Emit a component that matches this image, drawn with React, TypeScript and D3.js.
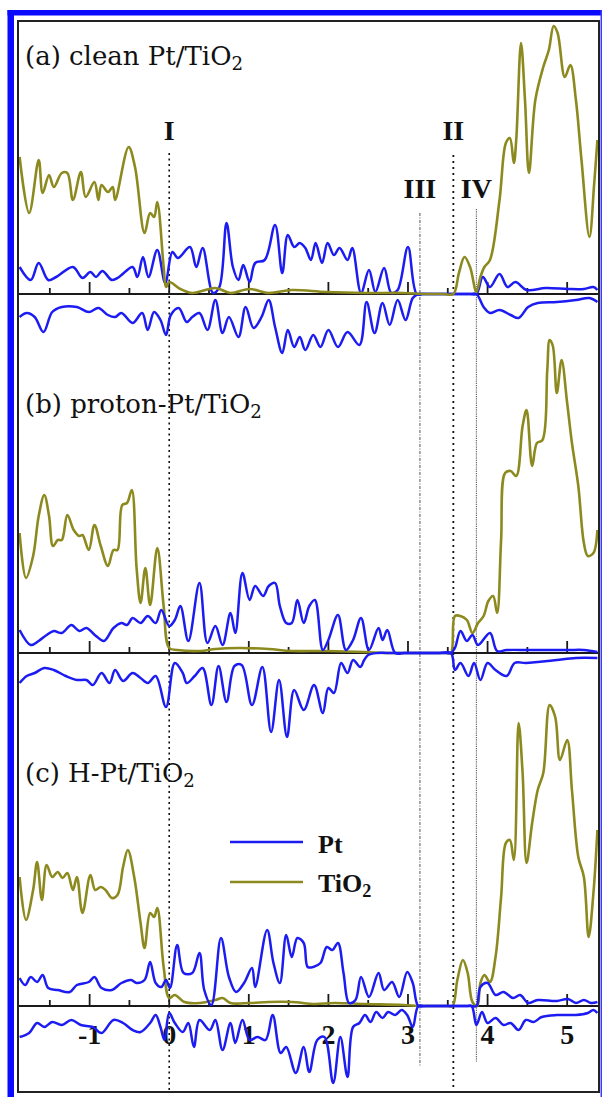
import * as d3 from "d3";
import React from "react";

// energy (eV) vs projected DOS (arb. units); Pt spin-down stored as negative
const tickLabels = [-1, 0, 1, 2, 3, 4, 5];
const panelNames = ["(a) clean Pt/TiO", "(b) proton-Pt/TiO", "(c) H-Pt/TiO"];
const markerNames = ["I", "II", "III", "IV"];
const markerEnergies = [0, 3.57, 3.15, 3.86];
const legendNames = ["Pt", "TiO"];

const cleanTiO2 = [
  [-1.88, 13.7], [-1.76, 8.1], [-1.64, 13.4], [-1.59, 10.1], [-1.51, 11.9], [-1.45, 10.7], [-1.35, 12.1],
  [-1.28, 12.1], [-1.21, 9.4], [-1.11, 12.2], [-1.05, 9.7], [-0.94, 11.2], [-0.89, 9.4], [-0.85, 10.9],
  [-0.77, 10.2], [-0.71, 10.7], [-0.68, 9.4], [-0.51, 14.7], [-0.43, 12.7], [-0.31, 6.1], [-0.24, 8.1],
  [-0.19, 7.7], [-0.15, 9.2], [-0.07, 2.7], [-0.04, 0.7], [0.0, 1.2], [0.14, 0.5], [0.29, 0.1], [0.58, 0.6],
  [0.77, 0.1], [1.01, 0.5], [1.25, 0.1], [1.54, 0.4], [1.97, 0.2], [2.46, 0.1], [2.94, 0.1], [3.18, 0],
  [3.3, 0], [3.45, 0], [3.57, 0], [3.64, 2.1], [3.71, 3.7], [3.78, 2.7], [3.86, 0.2], [3.91, 1.7], [3.96, 2.7],
  [4.03, 3.4], [4.15, 9.4], [4.23, 15.1], [4.28, 15.6], [4.33, 13.1], [4.36, 15.4], [4.42, 25.1], [4.47, 19.4],
  [4.52, 12.1], [4.6, 19.4], [4.7, 22.7], [4.77, 24.4], [4.83, 26.8], [4.88, 26.1], [4.97, 21.7],
  [5.04, 22.9], [5.11, 19.4], [5.18, 13.4], [5.28, 5.7], [5.34, 11.1], [5.38, 15.4],
];
const cleanPtUp = [
  [-1.88, 2.7], [-1.74, 1.4], [-1.64, 3.1], [-1.52, 1.4], [-1.42, 1.7], [-1.21, 2.7], [-1.09, 1.6],
  [-0.99, 2.2], [-0.92, 1.7], [-0.84, 2.3], [-0.72, 1.4], [-0.63, 1.7], [-0.46, 2.7], [-0.4, 1.7],
  [-0.33, 3.7], [-0.26, 1.7], [-0.15, 4.4], [-0.05, 1.1], [0.04, 4.2], [0.11, 3.6], [0.26, 4.7], [0.34, 2.7],
  [0.42, 4.6], [0.55, 0.1], [0.63, 0.7], [0.72, 7.1], [0.8, 2.7], [0.87, 1.4], [0.93, 2.9], [1.01, 1.2],
  [1.08, 3.1], [1.2, 3.4], [1.33, 6.9], [1.42, 2.1], [1.49, 5.9], [1.57, 4.7], [1.64, 5.1], [1.71, 4.6],
  [1.78, 3.4], [1.84, 5.1], [1.92, 3.1], [1.99, 5.1], [2.07, 3.9], [2.14, 4.6], [2.24, 3.4], [2.3, 4.6],
  [2.41, 0.1], [2.51, 2.4], [2.59, 0.2], [2.7, 2.6], [2.79, 0.1], [2.87, 0.4], [3.0, 4.7], [3.11, 0],
  [3.2, 0], [3.4, 0], [3.6, 0], [3.78, 0], [3.86, 0], [3.94, 1.7], [4.03, 0.7], [4.15, 2.0], [4.25, 0.7],
  [4.35, 1.2], [4.49, 0.4], [4.73, 0.6], [5.01, 0.5], [5.21, 0.5], [5.33, 0.7], [5.38, 0.4],
];
const cleanPtDown = [
  [-1.88, -2.3], [-1.79, -1.9], [-1.69, -2.3], [-1.58, -3.8], [-1.47, -1.8], [-1.35, -1.3], [-1.16, -1.3],
  [-1.01, -1.8], [-0.89, -1.4], [-0.77, -2.1], [-0.68, -2.3], [-0.6, -1.9], [-0.46, -2.9], [-0.34, -1.9],
  [-0.27, -3.6], [-0.19, -1.8], [-0.11, -2.6], [-0.04, -4.1], [0.02, -2.1], [0.12, -1.4], [0.22, -2.8],
  [0.29, -2.3], [0.38, -1.9], [0.48, -3.6], [0.58, -0.6], [0.67, -3.9], [0.75, -2.3], [0.87, -4.3],
  [0.96, -1.3], [1.06, -3.4], [1.16, -2.3], [1.25, -0.6], [1.33, -3.3], [1.42, -5.9], [1.49, -3.6],
  [1.57, -5.3], [1.64, -4.3], [1.71, -5.6], [1.81, -4.1], [1.9, -5.3], [2.0, -3.6], [2.12, -5.3],
  [2.24, -3.8], [2.39, -5.1], [2.48, -0.8], [2.58, -3.9], [2.68, -0.9], [2.77, -3.1], [2.87, -0.6],
  [2.97, -2.6], [3.06, -0.4], [3.13, 0], [3.22, 0], [3.4, 0], [3.6, 0], [3.78, 0], [3.86, 0], [3.95, -1.3],
  [4.03, -1.9], [4.15, -1.6], [4.29, -2.1], [4.39, -2.4], [4.51, -1.3], [4.63, -0.9], [4.87, -0.8],
  [5.11, -0.6], [5.28, -0.4], [5.38, -0.8],
];

const protonTiO2 = [
  [-1.88, 12.0], [-1.8, 7.5], [-1.71, 9.7], [-1.64, 13.7], [-1.57, 15.8], [-1.51, 13.7], [-1.46, 10.7],
  [-1.4, 11.3], [-1.35, 11.3], [-1.28, 13.8], [-1.2, 12.3], [-1.13, 11.7], [-1.09, 11.8], [-1.01, 10.3],
  [-0.94, 12.8], [-0.86, 10.7], [-0.77, 8.7], [-0.7, 10.3], [-0.65, 10.3], [-0.59, 14.8], [-0.53, 15.0],
  [-0.47, 16.3], [-0.41, 8.5], [-0.36, 5.0], [-0.3, 8.5], [-0.24, 4.8], [-0.15, 10.5], [-0.07, 4.7],
  [0.0, 0.5], [0.1, 0.3], [0.39, 0.2], [0.58, 0.4], [0.87, 0.5], [1.25, 0.4], [1.54, 0.2], [1.98, 0.2],
  [2.46, 0.1], [2.7, 0], [2.9, 0], [3.1, 0], [3.3, 0], [3.48, 0], [3.54, 0], [3.59, 3.7], [3.66, 3.7],
  [3.74, 3.3], [3.81, 2.0], [3.88, 3.0], [3.95, 3.7], [4.01, 5.2], [4.07, 5.7], [4.12, 4.0], [4.17, 11.3],
  [4.22, 18.0], [4.29, 18.2], [4.36, 17.7], [4.44, 22.7], [4.49, 24.3], [4.56, 18.7], [4.62, 21.0],
  [4.69, 21.3], [4.75, 28.3], [4.78, 31.3], [4.82, 30.7], [4.87, 26.0], [4.93, 29.3], [5.0, 25.0],
  [5.06, 21.0], [5.14, 16.7], [5.21, 11.0], [5.26, 9.7], [5.33, 10.0], [5.38, 12.3],
];
const protonPtUp = [
  [-1.88, 2.3], [-1.74, 0.8], [-1.64, 1.2], [-1.54, 1.8], [-1.45, 2.2], [-1.35, 2.0], [-1.23, 2.8],
  [-1.13, 2.2], [-1.04, 2.5], [-0.92, 1.7], [-0.82, 1.2], [-0.7, 2.5], [-0.6, 3.0], [-0.53, 2.8],
  [-0.46, 3.5], [-0.36, 3.0], [-0.27, 3.7], [-0.17, 3.0], [-0.1, 4.3], [0.0, 2.7], [0.07, 3.3], [0.14, 4.7],
  [0.24, 1.2], [0.38, 7.0], [0.48, 1.0], [0.58, 2.7], [0.67, 0.8], [0.77, 4.0], [0.83, 2.0], [0.92, 8.0],
  [1.01, 5.3], [1.08, 6.7], [1.18, 5.7], [1.25, 6.7], [1.33, 7.0], [1.39, 4.7], [1.47, 3.0], [1.54, 3.0],
  [1.61, 5.3], [1.69, 3.0], [1.76, 4.7], [1.83, 5.3], [1.93, 0.3], [2.0, 1.3], [2.12, 3.8], [2.22, 0.3],
  [2.31, 1.3], [2.41, 3.5], [2.51, 0.3], [2.63, 2.5], [2.68, 1.3], [2.74, 2.3], [2.84, 0], [2.95, 0],
  [3.15, 0], [3.35, 0], [3.48, 0], [3.54, 0], [3.59, 0.5], [3.66, 2.2], [3.74, 1.2], [3.81, 1.8],
  [3.88, 0.8], [4.03, 2.0], [4.12, 0.2], [4.24, 0.3], [4.53, 0.3], [5.01, 0.3], [5.21, 0.3], [5.38, 0.1],
];
const protonPtDown = [
  [-1.88, -3.0], [-1.79, -2.3], [-1.69, -2.0], [-1.57, -1.5], [-1.45, -1.7], [-1.3, -2.3], [-1.16, -2.7],
  [-1.04, -2.7], [-0.96, -3.2], [-0.85, -2.0], [-0.75, -3.0], [-0.68, -1.7], [-0.58, -2.8], [-0.46, -2.0],
  [-0.36, -2.5], [-0.27, -3.0], [-0.17, -2.3], [-0.04, -5.4], [0.07, -1.0], [0.17, -2.0], [0.22, -3.0],
  [0.32, -2.3], [0.42, -1.5], [0.53, -5.2], [0.62, -1.3], [0.72, -4.9], [0.82, -1.3], [0.91, -1.2],
  [1.04, -5.2], [1.17, -1.4], [1.28, -7.9], [1.38, -2.7], [1.48, -8.4], [1.57, -3.7], [1.69, -5.7],
  [1.82, -3.2], [1.93, -6.0], [2.0, -3.5], [2.07, -4.0], [2.16, -1.0], [2.24, -2.0], [2.31, -0.7],
  [2.4, -1.4], [2.45, -0.7], [2.5, -0.2], [2.62, 0], [2.8, 0], [3.0, 0], [3.2, 0], [3.4, 0], [3.54, 0],
  [3.59, -1.7], [3.66, -1.0], [3.76, -2.3], [3.83, -1.0], [3.91, -2.7], [4.0, -1.0], [4.1, -1.7],
  [4.24, -2.3], [4.34, -1.0], [4.48, -1.0], [4.63, -0.9], [4.87, -0.7], [5.11, -0.5], [5.38, -0.5],
];

const hTiO2 = [
  [-1.88, 12.9], [-1.8, 8.6], [-1.71, 11.6], [-1.66, 14.4], [-1.6, 10.6], [-1.54, 14.1], [-1.47, 12.9],
  [-1.4, 13.4], [-1.34, 12.8], [-1.28, 13.3], [-1.21, 11.6], [-1.16, 12.9], [-1.09, 9.3], [-0.99, 13.1],
  [-0.93, 11.6], [-0.86, 11.9], [-0.8, 11.6], [-0.72, 10.8], [-0.65, 11.1], [-0.58, 13.9], [-0.52, 15.6],
  [-0.44, 12.9], [-0.36, 8.3], [-0.31, 5.8], [-0.24, 9.3], [-0.19, 8.9], [-0.15, 9.8], [-0.07, 3.9],
  [0.0, 0.8], [0.07, 1.1], [0.19, 0.4], [0.38, 0.3], [0.58, 0.6], [0.67, 0.8], [0.77, 0.3], [1.01, 0.3],
  [1.25, 0.4], [1.54, 0.4], [1.83, 0.2], [2.07, 0.3], [2.46, 0.2], [2.94, 0.1], [3.13, 0], [3.25, 0],
  [3.4, 0], [3.5, 0], [3.56, 0], [3.62, 2.6], [3.69, 4.6], [3.75, 3.3], [3.81, 0.4], [3.87, 0], [3.91, 2.3],
  [3.96, 3.1], [4.03, 2.4], [4.1, 4.9], [4.17, 10.9], [4.23, 16.3], [4.28, 16.6], [4.33, 14.6], [4.39, 28.3],
  [4.44, 23.3], [4.49, 14.3], [4.56, 18.3], [4.63, 21.6], [4.7, 23.3], [4.78, 30.1], [4.85, 28.9],
  [4.91, 24.6], [5.0, 26.6], [5.06, 21.6], [5.14, 14.9], [5.21, 12.9], [5.27, 6.9], [5.33, 11.3],
  [5.38, 17.6],
];
const hPtUp = [
  [-1.88, 2.8], [-1.81, 2.1], [-1.74, 2.9], [-1.66, 2.4], [-1.59, 3.1], [-1.52, 1.8], [-1.4, 1.6],
  [-1.25, 1.4], [-1.16, 2.1], [-1.01, 2.4], [-0.94, 2.9], [-0.85, 1.8], [-0.72, 1.6], [-0.6, 2.3],
  [-0.48, 2.6], [-0.41, 2.3], [-0.31, 2.6], [-0.24, 4.4], [-0.17, 2.3], [-0.1, 1.9], [-0.04, 2.6],
  [0.01, 1.8], [0.1, 6.1], [0.18, 3.3], [0.29, 3.3], [0.38, 5.3], [0.44, 1.6], [0.53, 0.1], [0.65, 6.8],
  [0.75, 2.9], [0.84, 1.4], [0.94, 2.3], [1.04, 3.8], [1.08, 1.9], [1.23, 7.6], [1.31, 4.3], [1.39, 2.3],
  [1.47, 7.1], [1.54, 4.9], [1.61, 6.8], [1.69, 6.3], [1.74, 3.9], [1.81, 3.9], [1.9, 4.3], [1.98, 5.9],
  [2.05, 5.6], [2.12, 6.3], [2.19, 3.3], [2.26, 0.3], [2.34, 0.6], [2.41, 2.9], [2.51, 0.9], [2.63, 3.3],
  [2.7, 1.6], [2.8, 2.4], [2.89, 0.9], [2.99, 3.4], [3.06, 2.3], [3.13, 0], [3.22, 0], [3.4, 0], [3.6, 0],
  [3.78, 0], [3.86, 0], [3.91, 1.9], [4.0, 2.3], [4.1, 1.1], [4.2, 1.4], [4.32, 0.8], [4.41, 1.1],
  [4.51, 0.3], [4.63, 0.6], [4.87, 0.5], [5.01, 0.7], [5.11, 0.3], [5.21, 0.6], [5.3, 0.3], [5.38, 0.4],
];
const hPtDown = [
  [-1.88, -3.1], [-1.76, -2.7], [-1.66, -1.7], [-1.57, -2.1], [-1.47, -1.6], [-1.35, -1.9], [-1.23, -1.4],
  [-1.11, -1.9], [-0.96, -2.1], [-0.85, -2.7], [-0.7, -1.4], [-0.58, -1.7], [-0.46, -2.4], [-0.36, -2.6],
  [-0.24, -1.7], [-0.17, -0.9], [-0.11, -2.1], [-0.06, -3.4], [0.0, -0.7], [0.07, -1.7], [0.17, -2.6],
  [0.24, -1.7], [0.31, -4.1], [0.38, -1.4], [0.51, -2.4], [0.58, -1.4], [0.67, -4.4], [0.77, -1.7],
  [0.83, -3.7], [0.92, -1.4], [1.01, -3.4], [1.11, -3.1], [1.21, -3.4], [1.3, -0.9], [1.4, -4.7],
  [1.47, -4.1], [1.59, -6.7], [1.69, -4.1], [1.76, -6.6], [1.86, -3.4], [1.95, -3.1], [2.06, -7.7],
  [2.15, -3.1], [2.24, -7.1], [2.31, -2.1], [2.39, -1.7], [2.46, -0.9], [2.53, -1.6], [2.6, -0.6],
  [2.68, -1.2], [2.75, -0.6], [2.84, -0.9], [2.92, -0.4], [2.99, -0.9], [3.06, -2.1], [3.13, 0], [3.22, 0],
  [3.4, 0], [3.6, 0], [3.74, 0], [3.8, 0], [3.86, -1.9], [3.93, -0.6], [4.0, -1.7], [4.1, -1.2], [4.2, -1.9],
  [4.29, -1.7], [4.39, -2.4], [4.48, -1.4], [4.58, -1.6], [4.68, -1.1], [4.87, -0.9], [5.11, -0.9],
  [5.26, -0.7], [5.33, -0.4], [5.38, -0.7],
];

const W = 602;
const H = 1097;
const frame = { left: 18, right: 599, top: 21, bottom: 1092 };
const BLUE = "#1c1cf2";
const OLIVE = "#8c8a1e";
const labelFont = "'DejaVu Serif', serif";
const timesFont = "'Liberation Serif', 'Times New Roman', serif";

const panels = [
  { name: panelNames[0], base: 294, tio2: cleanTiO2, up: cleanPtUp, down: cleanPtDown, ptOnTop: false, labelY: 65 },
  { name: panelNames[1], base: 653, tio2: protonTiO2, up: protonPtUp, down: protonPtDown, ptOnTop: true, labelY: 413 },
  { name: panelNames[2], base: 1006, tio2: hTiO2, up: hPtUp, down: hPtDown, ptOnTop: true, labelY: 782 },
];

export default function App() {
  const x = d3.scaleLinear().domain([-1.9, 5.4]).range([frame.left, frame.right]);
  const minorTicks = d3.range(-1.5, 5.01, 0.5);

  const markerStyles = [
    { color: "#111", width: 1.6, dash: "2,3.5", top: 153, bottom: frame.bottom, labelY: 140 },
    { color: "#111", width: 1.8, dash: "2,4", top: 155, bottom: frame.bottom, labelY: 140 },
    { color: "#555", width: 1, dash: "3,1.5,1,1.5", top: 213, bottom: 1067, labelY: 198 },
    { color: "#666", width: 1.2, dash: "1.2,1", top: 209, bottom: 1062, labelY: 198 },
  ];

  const renderPanel = (p, i) => {
    const y = d3.scaleLinear().domain([0, 10]).range([p.base, p.base - 100]);
    const line = d3
      .line()
      .x((d) => x(d[0]))
      .y((d) => y(d[1]))
      .curve(d3.curveCatmullRom.alpha(0.5));
    const ptPaths = [p.up, p.down].map((s, k) => (
      <path key={"pt" + k} d={line(s)} fill="none" stroke={BLUE} strokeWidth={2.5} strokeLinejoin="round" />
    ));
    const tiPath = <path key="ti" d={line(p.tio2)} fill="none" stroke={OLIVE} strokeWidth={2.6} strokeLinejoin="round" />;
    return (
      <g key={i}>
        <line x1={frame.left} x2={frame.right} y1={p.base} y2={p.base} stroke="#1a1a1a" strokeWidth={2} />
        {minorTicks.map((t) => {
          const major = Math.abs(t - Math.round(t)) < 1e-6;
          return (
            <line key={t} x1={x(t)} x2={x(t)} y1={p.base} y2={p.base - (major ? 12 : 6)} stroke="#1a1a1a" strokeWidth={1.8} />
          );
        })}
        {i === 2 &&
          tickLabels.map((t) => (
            <text key={"tl" + t} x={x(t)} y={1044} textAnchor="middle" fontFamily={timesFont} fontWeight="bold" fontSize={28} fill="#111">
              {t}
            </text>
          ))}
        <g clipPath="url(#plotClip)">{p.ptOnTop ? [tiPath, ...ptPaths] : [...ptPaths, tiPath]}</g>
        <text x={25} y={p.labelY} fontFamily={labelFont} fontSize={26} fill="#111">
          {p.name}
          <tspan fontSize="0.7em" dy={5}>2</tspan>
        </text>
      </g>
    );
  };

  return (
    <div style={{ position: "absolute", left: 0, top: 0 }}>
      <svg width={W} height={H} style={{ display: "block", background: "#fff" }}>
        <defs>
          <clipPath id="plotClip">
            <rect x={frame.left} y={frame.top} width={frame.right - frame.left} height={frame.bottom - frame.top} />
          </clipPath>
        </defs>
        <rect x={0} y={0} width={W} height={H} fill="#fff" />
        {/* blue page border */}
        <rect x={7.5} y={10} width={6.5} height={H - 10} fill="#0a0aff" />
        <rect x={7.5} y={10} width={W - 7.5} height={5.5} fill="#0a0aff" />
        <rect x={600.5} y={10} width={1.5} height={H - 10} fill="#3a3aff" />

        {markerEnergies.map((e, k) => {
          const s = markerStyles[k];
          return (
            <g key={"m" + k}>
              <line x1={x(e)} x2={x(e)} y1={s.top} y2={s.bottom} stroke={s.color} strokeWidth={s.width} strokeDasharray={s.dash} />
              <text x={x(e)} y={s.labelY} textAnchor="middle" fontFamily={timesFont} fontWeight="bold" fontSize={28} fill="#111">
                {markerNames[k]}
              </text>
            </g>
          );
        })}

        {panels.map(renderPanel)}

        {/* legend */}
        <line x1={230} x2={303} y1={842} y2={842} stroke={BLUE} strokeWidth={2.4} />
        <line x1={230} x2={303} y1={882} y2={882} stroke={OLIVE} strokeWidth={2.5} />
        <text x={318} y={853} fontFamily={timesFont} fontWeight="bold" fontSize={26} fill="#111">
          {legendNames[0]}
        </text>
        <text x={318} y={892} fontFamily={timesFont} fontWeight="bold" fontSize={26} fill="#111">
          {legendNames[1]}
          <tspan fontSize="0.7em" dy={5}>2</tspan>
        </text>

        <rect
          x={frame.left}
          y={frame.top}
          width={frame.right - frame.left}
          height={frame.bottom - frame.top}
          fill="none"
          stroke="#222"
          strokeWidth={2}
        />
      </svg>
    </div>
  );
}
